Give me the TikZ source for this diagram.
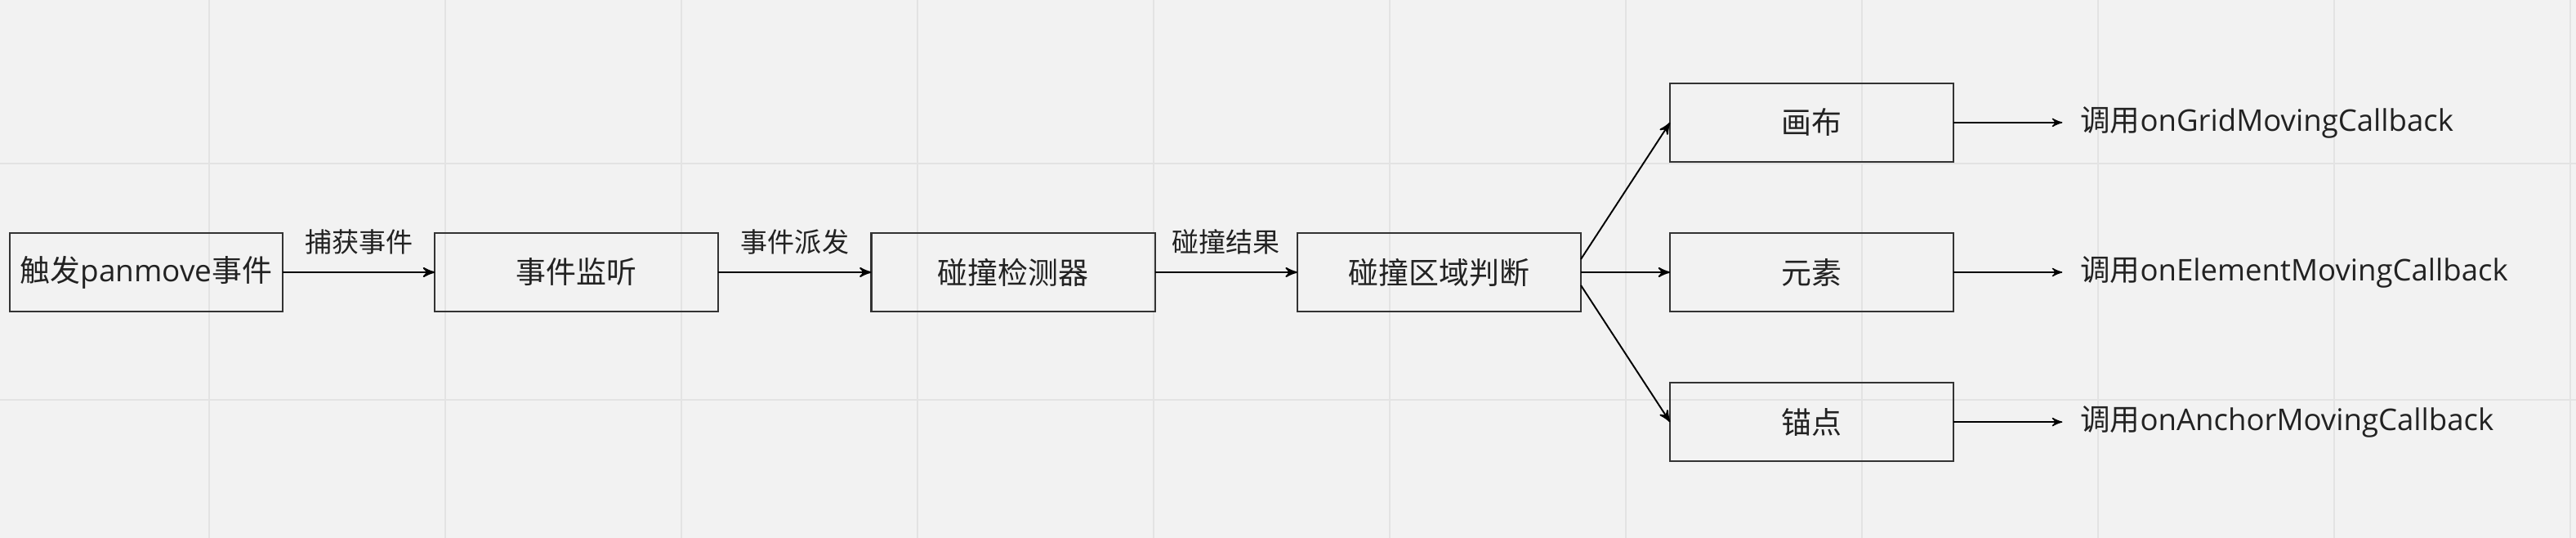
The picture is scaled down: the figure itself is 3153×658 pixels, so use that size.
\documentclass[tikz,border=0pt]{standalone}
\usepackage{fontspec}
\setmainfont{Open Sans}
\newfontfamily\cjk{Noto Sans CJK SC}
\usetikzlibrary{arrows,positioning}
\newcommand{\zh}[1]{{\cjk #1}}
\definecolor{bgcol}{HTML}{F2F2F2}
\definecolor{gridcol}{HTML}{E3E3E3}
\definecolor{boxcol}{HTML}{333333}
\definecolor{txtcol}{HTML}{222222}

\begin{document}
\begin{tikzpicture}[->, >=stealth', auto, x=0.01cm, y=-0.01cm, node distance=1.86cm, line width=0.55pt]
\tikzstyle{block}=[draw=boxcol,line width=0.6pt,text=txtcol,minimum width=3.47cm,minimum height=0.96cm,inner sep=0pt,outer sep=0pt,font=\fontsize{10.5}{12}\selectfont]
\tikzstyle{lbl}=[text=txtcol,inner sep=6pt,font=\fontsize{9.4}{11}\selectfont]
\tikzstyle{call}=[text=txtcol,inner xsep=0.22cm,outer sep=0pt,font=\fontsize{10.4}{12}\selectfont]
\tikzstyle{gridline}=[-,draw=gridcol,line width=0.6pt]
% background and grid
\path[use as bounding box] (0,0) rectangle (3153,658);
\fill[bgcol] (0,0) rectangle (3153,658);
\foreach \x in {256,545,...,3146} \draw[gridline] (\x,0) -- (\x,658);
\foreach \y in {200,489} \draw[gridline] (0,\y) -- (3153,\y);

\node[block,minimum width=3.34cm] (trigger) at (179,333) {\zh{触发}panmove\zh{事件}};
\node[block]    (listen)[right=of trigger]         {\zh{事件监听}};
\node[block]    (detect)[right=1.87cm of listen]   {\zh{碰撞检测器}};
\node[block]    (judge)[right=1.74cm of detect]    {\zh{碰撞区域判断}};
\node[block]    (element)[right=1.09cm of judge]   {\zh{元素}};
\node[block]    (canvas)[above=0.87cm of element]  {\zh{画布}};
\node[block]    (anchorpt)[below=0.87cm of element] {\zh{锚点}};
\node[call]     (gridcb)[right=1.33cm of canvas]      {\zh{调用}onGridMovingCallback};
\node[call]     (elementcb)[right=1.33cm of element]  {\zh{调用}onElementMovingCallback};
\node[call]     (anchorcb)[right=1.33cm of anchorpt]  {\zh{调用}onAnchorMovingCallback};
\path

(trigger) edge   node[lbl]{\zh{捕获事件}}   (listen)
(listen)  edge   node[lbl]{\zh{事件派发}}   (detect)
(detect)  edge   node[lbl]{\zh{碰撞结果}}   (judge)

([yshift=0.16cm]judge.east)  edge   (canvas.west)
(judge)                      edge   (element)
([yshift=-0.16cm]judge.east) edge   (anchorpt.west);
\path[line width=0.4pt]
(canvas)   edge   (gridcb)
(element)  edge   (elementcb)
(anchorpt) edge   (anchorcb);
\end{tikzpicture}
\end{document}
